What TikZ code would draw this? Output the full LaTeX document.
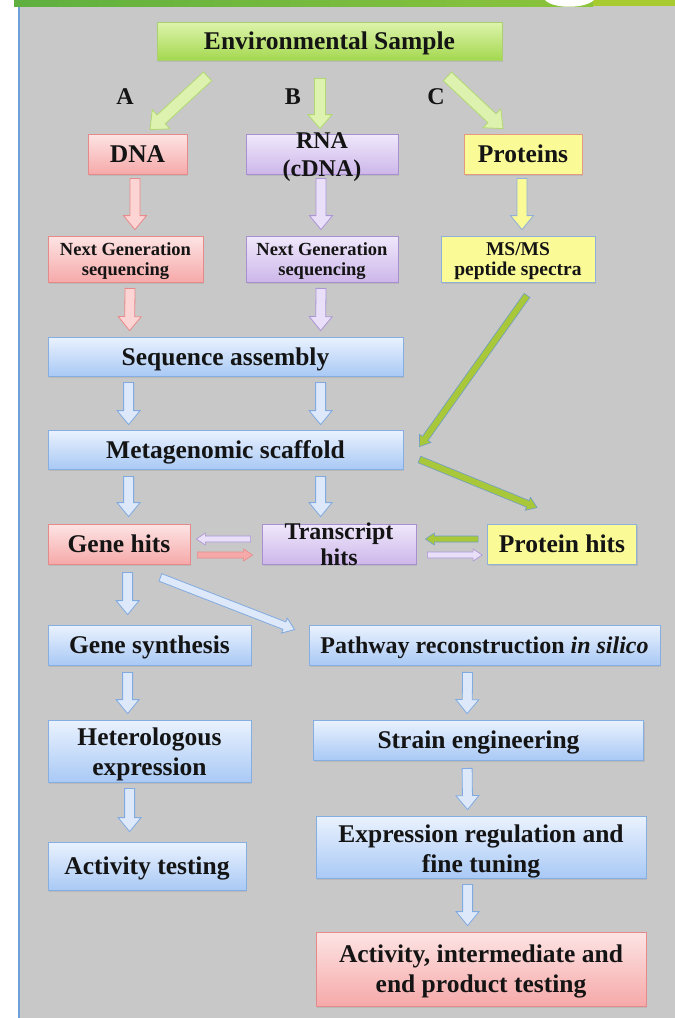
\documentclass[tikz,border=0pt]{standalone}
\usepackage{fontspec}
\setmainfont{Liberation Serif}
\usetikzlibrary{calc,shadows}
\definecolor{bg}{HTML}{C8C8C8}
\definecolor{edgeblue}{HTML}{6FA0D8}
\definecolor{gbar1}{HTML}{5FB040}
\definecolor{gbar2}{HTML}{8CC43C}
\definecolor{gbar3}{HTML}{A8CC30}
\definecolor{bT}{HTML}{EAF2FE}
\definecolor{bB}{HTML}{A9C9F5}
\definecolor{bD}{HTML}{86AEE0}
\definecolor{rT}{HTML}{FDE4E4}
\definecolor{rB}{HTML}{F6A9A9}
\definecolor{rD}{HTML}{E58A8A}
\definecolor{pT}{HTML}{F0E8FB}
\definecolor{pB}{HTML}{CDB7EA}
\definecolor{pD}{HTML}{A88FD0}
\definecolor{yF}{HTML}{FAFA96}
\definecolor{yD}{HTML}{8FB0D8}
\definecolor{yR}{HTML}{E59A80}
\definecolor{gT}{HTML}{DDF4AC}
\definecolor{gB}{HTML}{A5D850}
\definecolor{gD}{HTML}{A8D070}
\definecolor{gAf}{HTML}{DCF2AE}
\definecolor{gAd}{HTML}{B2D873}
\definecolor{rAf}{HTML}{FCD4D4}
\definecolor{rAd}{HTML}{E88A8A}
\definecolor{pAf}{HTML}{EADFF8}
\definecolor{pAd}{HTML}{AB95D6}
\definecolor{bAf}{HTML}{DDE9FB}
\definecolor{bAd}{HTML}{80AAE0}
\definecolor{dgf}{HTML}{A8C83A}
\definecolor{dgd}{HTML}{6F9CC8}
\definecolor{txt}{HTML}{141414}
% block arrow: style, from, to, shaft half, head half, head length
\newcommand\barr[6]{%
 \draw[#1] let \p1=#2, \p2=#3, \n1={atan2(\y2-\y1,\x2-\x1)}, \n2={veclen(\x2-\x1,\y2-\y1)} in
  ($(\p1)+(\n1+90:#4)$) -- ($(\p1)+(\n1:{\n2*1pt-#6})+(\n1+90:#4)$)
  -- ($(\p1)+(\n1:{\n2*1pt-#6})+(\n1+90:#5)$) -- (\p2)
  -- ($(\p1)+(\n1:{\n2*1pt-#6})+(\n1-90:#5)$) -- ($(\p1)+(\n1:{\n2*1pt-#6})+(\n1-90:#4)$)
  -- ($(\p1)+(\n1-90:#4)$) -- cycle;}
\newcommand\bigarr[3]{\barr{#1}{#2}{#3}{5pt}{11.5pt}{14pt}}
\newcommand\smallarr[3]{\barr{#1}{#2}{#3}{3pt}{6pt}{9pt}}
% two lines; #1 = distance of the last baseline below the node centre
\newcommand\twolines[3]{\raisebox{-#1}[0pt][0pt]{\begin{tabular}[b]{@{}c@{}}#2\\#3\end{tabular}}}
\begin{document}
\begin{tikzpicture}[x=1pt,y=-1pt,
  box/.style={draw, line width=0.8pt, inner sep=0pt, align=center, text=txt,
    font=\bfseries\fontsize{25.5}{30}\selectfont, text height=17pt, text depth=0pt,
    drop shadow={shadow xshift=1pt, shadow yshift=-1.5pt, opacity=0.2}},
  multi/.style={text height=0pt, text depth=0pt},
  bluebox/.style={box, top color=bT, bottom color=bB, draw=bD},
  redbox/.style={box, top color=rT, bottom color=rB, draw=rD},
  purplebox/.style={box, top color=pT, bottom color=pB, draw=pD},
  yellowbox/.style={box, fill=yF, draw=yD},
  greenbox/.style={box, top color=gT, bottom color=gB, draw=gD},
  small/.style={font=\bfseries\fontsize{18.5}{19.5}\selectfont},
  lbl/.style={font=\bfseries\fontsize{24}{28}\selectfont, text=txt, inner sep=0pt},
  garr/.style={fill=gAf, draw=gAd, line width=0.8pt},
  rarr/.style={fill=rAf, draw=rAd, line width=0.8pt},
  parr/.style={fill=pAf, draw=pAd, line width=0.8pt},
  yarr/.style={fill=yF, draw=yD, line width=0.8pt},
  barrs/.style={fill=bAf, draw=bAd, line width=0.8pt},
  dgarr/.style={fill=dgf, draw=dgd, line width=0.6pt},
  rdarr/.style={fill=rB, draw=rAd, line width=0.6pt},
  pdarr/.style={fill=pAf, draw=pAd, line width=0.6pt}
]
\useasboundingbox (0,0) rectangle (675,1018);
\fill[white] (0,0) rectangle (675,1018);
\fill[bg] (19,6) rectangle (675,1018);
\draw[edgeblue, line width=2pt] (19,6) -- (19,1018);
\shade[left color=gbar1, right color=gbar2] (14,0) rectangle (593,6);
\fill[gbar3] (593,0) rectangle (675,6);
\fill[white] (545,0) .. controls (553,9) and (585,9) .. (594,0) -- cycle;

% nodes
\node[greenbox, minimum width=345pt, minimum height=38pt] (env) at (329.5,41) {Environmental Sample};
\node[lbl] (la) at (125,97) {A};
\node[lbl] (lb) at (293,97) {B};
\node[lbl] (lc) at (436,97) {C};
\node[redbox, minimum width=99pt, minimum height=40pt] (dna) at (137.5,154) {DNA};
\node[purplebox, multi, font=\bfseries\fontsize{24}{28}\selectfont, minimum width=152pt, minimum height=40pt] (rna) at (322,154)
  {\twolines{22pt}{RNA}{(cDNA)}};
\node[box, fill=yF, draw=yR, minimum width=118pt, minimum height=40pt] (prot) at (523,154) {Proteins};
\node[redbox, small, multi, minimum width=155pt, minimum height=46pt] (ngs1) at (125.5,259) {\twolines{16pt}{Next Generation}{sequencing}};
\node[purplebox, small, multi, minimum width=152pt, minimum height=46pt] (ngs2) at (322,259) {\twolines{16pt}{Next Generation}{sequencing}};
\node[yellowbox, multi, font=\bfseries\fontsize{19.5}{19.5}\selectfont, minimum width=154pt, minimum height=46pt] (msms) at (518,259) {\twolines{16pt}{MS/MS}{peptide spectra}};
\node[bluebox, minimum width=355pt, minimum height=39pt] (seq) at (225.5,356.5) {Sequence assembly};
\node[bluebox, minimum width=355pt, minimum height=39pt] (scaf) at (225.5,449.5) {Metagenomic scaffold};
\node[redbox, minimum width=142pt, minimum height=40pt] (gene) at (119,544) {Gene hits};
\node[purplebox, multi, font=\bfseries\fontsize{24}{26}\selectfont, minimum width=154pt, minimum height=40pt] (trans) at (339,544)
  {\twolines{21pt}{Transcript}{hits}};
\node[yellowbox, minimum width=149pt, minimum height=40pt] (phits) at (562,544) {Protein hits};
\node[bluebox, minimum width=203pt, minimum height=40pt] (gsyn) at (149.5,645) {Gene synthesis};
\node[bluebox, font=\bfseries\fontsize{24}{30}\selectfont, minimum width=351pt, minimum height=40pt] (path) at (484.5,645) {Pathway reconstruction \textit{in silico}};
\node[bluebox, multi, minimum width=203pt, minimum height=62pt] (het) at (149.5,751) {\twolines{24pt}{Heterologous}{expression}};
\node[bluebox, minimum width=330pt, minimum height=40pt] (strain) at (478.5,740) {Strain engineering};
\node[bluebox, minimum width=198pt, minimum height=48pt] (act) at (147,866) {Activity testing};
\node[bluebox, multi, minimum width=330pt, minimum height=62pt] (expr) at (481,847) {\twolines{25pt}{Expression regulation and}{fine tuning}};
\node[redbox, multi, minimum width=330pt, minimum height=74pt] (final) at (481,969) {\twolines{23pt}{Activity, intermediate and}{end product testing}};

% arrows from the sample
\barr{garr}{($(env.south west)+(51,16)$)}{($(dna.north)+(12.5,-4)$)}{6pt}{13pt}{15pt}
\barr{garr}{($(env.south)+(-9.5,18)$)}{($(rna.north)+(-2,-5)$)}{5.5pt}{12pt}{14pt}
\barr{garr}{($(env.south east)+(-55,16)$)}{($(prot.north)+(-20,-5)$)}{6pt}{13pt}{15pt}
% first level
\bigarr{rarr}{($(dna.south)+(-2.5,4)$)}{($(ngs1.north)+(9.5,-6)$)}
\bigarr{parr}{($(rna.south)+(-1,4)$)}{($(ngs2.north)+(-1,-6)$)}
\bigarr{yarr}{($(prot.south)+(-1,4)$)}{($(msms.north)+(4,-6)$)}
\bigarr{rarr}{($(ngs1.south)+(4.5,6)$)}{($(seq.north west)+(82,-6)$)}
\bigarr{parr}{($(ngs2.south)+(-1,6)$)}{($(seq.north west)+(273,-6)$)}
\barr{dgarr}{($(msms.south)+(9,13)$)}{($(scaf.north east)+(16,17)$)}{3.5pt}{7pt}{10pt}
\bigarr{barrs}{($(seq.south west)+(81,6)$)}{($(scaf.north west)+(81,-5)$)}
\bigarr{barrs}{($(seq.south west)+(273,6)$)}{($(scaf.north west)+(273,-5)$)}
\barr{dgarr}{($(scaf.east)+(16,10)$)}{($(phits.north west)+(50,-16)$)}{3.5pt}{7pt}{10pt}
\bigarr{barrs}{($(scaf.south west)+(81,7)$)}{($(gene.north west)+(81,-7)$)}
\bigarr{barrs}{($(scaf.south west)+(273,7)$)}{($(trans.north west)+(59,-7)$)}
% hits exchanges
\smallarr{pdarr}{($(trans.west)+(-11,-5)$)}{($(gene.east)+(6,-5)$)}
\smallarr{rdarr}{($(gene.east)+(7,11)$)}{($(trans.west)+(-9,11)$)}
\smallarr{dgarr}{($(phits.west)+(-9,-5)$)}{($(trans.east)+(9,-5)$)}
\smallarr{pdarr}{($(trans.east)+(11,11)$)}{($(phits.west)+(-5,11)$)}
% lower part
\bigarr{barrs}{($(gene.south west)+(80,8)$)}{($(gsyn.north west)+(80,-10)$)}
\barr{barrs}{($(gene.south east)+(-30,13)$)}{($(path.north west)+(-14,5)$)}{4pt}{8pt}{11pt}
\bigarr{barrs}{($(gsyn.south west)+(80,7)$)}{($(het.north west)+(80,-6)$)}
\bigarr{barrs}{($(het.south west)+(82,6)$)}{($(act.north west)+(82,-10)$)}
\bigarr{barrs}{($(path.south west)+(159,7)$)}{($(strain.north west)+(154,-6)$)}
\bigarr{barrs}{($(strain.south west)+(154,8)$)}{($(expr.north west)+(152,-6)$)}
\bigarr{barrs}{($(expr.south west)+(152,6)$)}{($(final.north west)+(152,-6)$)}
\end{tikzpicture}
\end{document}
